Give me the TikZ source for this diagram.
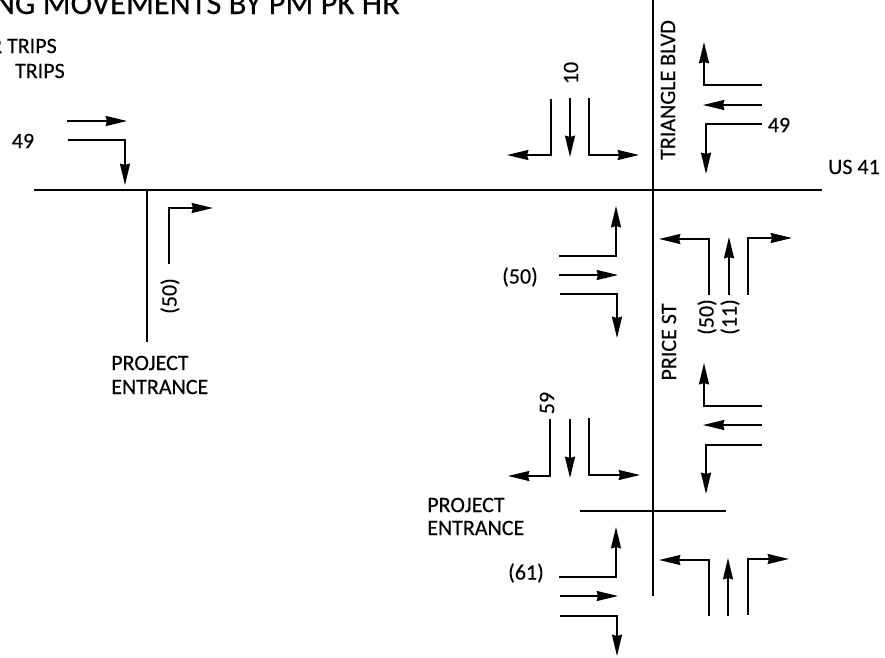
\documentclass[tikz,border=0pt]{standalone}
\usepackage{fontspec}
\setmainfont{Carlito}
\usetikzlibrary{arrows.meta}
\tikzset{
    road line/.style={
      draw=black,
      line width=1.5pt
    },
    turn move/.style={
      draw=black,
      line width=1.3pt,
      -{Stealth[length=16pt,width=7.5pt,inset=1pt]}
    },
    street label/.style={
      font=\fontsize{16.5}{20}\selectfont\addfontfeature{FakeBold=0.3},
      inner sep=0pt
    },
    title label/.style={
      font=\fontsize{24.4}{28}\selectfont\addfontfeature{FakeBold=0.3},
      inner sep=0pt
    }
  }
\begin{document}
\begin{tikzpicture}[x=0.75pt,y=-0.75pt]
      \useasboundingbox (0,0) rectangle (885,657);

      % roads
      \draw[road line] (34,190) -- (822,190);
      \draw[road line] (147,190) -- (147,342);
      \draw[road line] (653,0) -- (653,596);
      \draw[road line] (580,511) -- (726,511);

      % west site
      \draw[turn move] (67,121) -- (127,121);
      \draw[turn move] (68,140) -- (125,140) -- (125,185);
      \draw[turn move] (169,264) -- (169,208) -- (213,208);

      % north approach, US 41
      \draw[turn move] (551,99) -- (551,155) -- (507,155);
      \draw[turn move] (570,98) -- (570,157);
      \draw[turn move] (589,98) -- (589,155) -- (639,155);

      % east approach, US 41
      \draw[turn move] (762,85) -- (704,85) -- (704,42);
      \draw[turn move] (762,105) -- (703,105);
      \draw[turn move] (762,124) -- (706,124) -- (706,174);

      % west approach, US 41
      \draw[turn move] (559,256) -- (616,256) -- (616,206);
      \draw[turn move] (559,275) -- (618,275);
      \draw[turn move] (560,294) -- (617,294) -- (617,338);

      % south approach, US 41
      \draw[turn move] (709,295) -- (709,239) -- (659,239);
      \draw[turn move] (729,295) -- (729,237);
      \draw[turn move] (748,295) -- (748,238) -- (792,238);

      % north approach, entrance
      \draw[turn move] (550,419) -- (550,476) -- (508,476);
      \draw[turn move] (570,419) -- (570,478);
      \draw[turn move] (589,418) -- (589,475) -- (640,475);

      % east approach, entrance
      \draw[turn move] (762,406) -- (704,406) -- (704,363);
      \draw[turn move] (762,425) -- (703,425);
      \draw[turn move] (762,445) -- (706,445) -- (706,494);

      % west approach, entrance
      \draw[turn move] (559,577) -- (616,577) -- (616,527);
      \draw[turn move] (560,596) -- (618,596);
      \draw[turn move] (560,616) -- (617,616) -- (617,656);

      % south approach, entrance
      \draw[turn move] (709,616) -- (709,560) -- (659,560);
      \draw[turn move] (728,616) -- (728,558);
      \draw[turn move] (748,615) -- (748,559) -- (789,559);

      % text
      \node[title label, anchor=base east] (title) at (400,14) {NG MOVEMENTS BY PM PK HR};
      \node[street label, anchor=east] (tripsa) at (57,46) {R TRIPS};
      \node[street label, anchor=east] (tripsb) at (65,71) {TRIPS};
      \node[street label] (volwest) at (23,141) {49};
      \node[street label, rotate=90] (volsite) at (170,296) {(50)};
      \node[street label, anchor=west] (sitea) at (111,363) {PROJECT};
      \node[street label, anchor=west] (siteb) at (111,387) {ENTRANCE};
      \node[street label, rotate=90] (volnorth) at (571,73) {10};
      \node[street label, rotate=90] (triangle) at (668,90) {TRIANGLE BLVD};
      \node[street label] (voleast) at (779,125) {49};
      \node[street label] (us) at (854,167) {US 41};
      \node[street label] (volwestb) at (520,277) {(50)};
      \node[street label, rotate=90] (volsoutha) at (707,317) {(50)};
      \node[street label, rotate=90] (volsouthb) at (730,317) {(11)};
      \node[street label, rotate=90] (price) at (669,342) {PRICE ST};
      \node[street label, rotate=90] (volnorthb) at (547,403) {59};
      \node[street label, anchor=west] (entrya) at (427,505) {PROJECT};
      \node[street label, anchor=west] (entryb) at (427,528) {ENTRANCE};
      \node[street label] (volwestc) at (526,573) {(61)};
    \end{tikzpicture}
\end{document}
